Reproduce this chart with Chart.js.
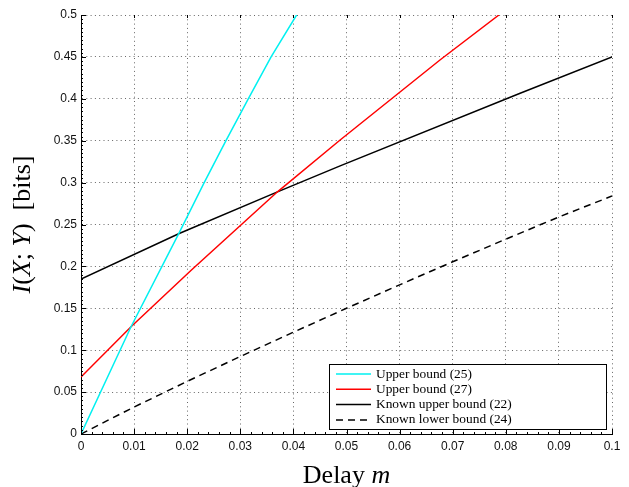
<!DOCTYPE html>
<html>
<head>
<meta charset="utf-8">
<script src="https://cdn.jsdelivr.net/npm/chart.js@4"></script>
<style>
body { margin: 0; background: #fff; }
canvas { display: block; }
</style>
</head>
<body>
<canvas id="myChart" width="629" height="487"></canvas>
<script>
// series (delay m -> I(X;Y) in bits)
const upper25X = [0, 0.00942, 0.0186, 0.0232, 0.0273, 0.0315, 0.0358, 0.0406];
const upper25Y = [0, 0.128, 0.2414, 0.3, 0.35, 0.4, 0.45, 0.5];
const upper27X = [0, 0.00942, 0.0208, 0.037, 0.0488, 0.0676, 0.0787];
const upper27Y = [0.068, 0.128, 0.1957, 0.289, 0.3508, 0.4463, 0.5];
const knownUpperX = [0, 0.0186, 0.037, 0.0488, 0.0827, 0.1];
const knownUpperY = [0.185, 0.2395, 0.289, 0.32, 0.4066, 0.45];
const knownLowerX = [0, 0.01, 0.02, 0.03, 0.04, 0.05, 0.06, 0.07, 0.08, 0.09, 0.1];
const knownLowerY = [0, 0.0322, 0.0628, 0.0925, 0.1215, 0.15, 0.178, 0.2055, 0.2325, 0.259, 0.284];

const seriesLabels = ['Upper bound (25)', 'Upper bound (27)', 'Known upper bound (22)', 'Known lower bound (24)'];
const xTicks = [0, 0.01, 0.02, 0.03, 0.04, 0.05, 0.06, 0.07, 0.08, 0.09, 0.1];
const yTicks = [0, 0.05, 0.1, 0.15, 0.2, 0.25, 0.3, 0.35, 0.4, 0.45, 0.5];

function pts(xs, ys) {
    return xs.map(function (x, i) { return { x: x, y: ys[i] }; });
}
function fmt(v) {
    return String(Number(v.toFixed(4)));
}

const data = {
    datasets: [{
        label: seriesLabels[0],
        data: pts(upper25X, upper25Y),
        borderColor: '#00f0f0',
        borderDash: []
    }, {
        label: seriesLabels[1],
        data: pts(upper27X, upper27Y),
        borderColor: '#ff0000',
        borderDash: []
    }, {
        label: seriesLabels[2],
        data: pts(knownUpperX, knownUpperY),
        borderColor: '#000000',
        borderDash: []
    }, {
        label: seriesLabels[3],
        data: pts(knownLowerX, knownLowerY),
        borderColor: '#000000',
        borderDash: [7, 5]
    }]
};

// inward ticks, axis titles and the boxed legend
const extras = {
    id: 'extras',
    afterDatasetsDraw(chart) {
        const ctx = chart.ctx;
        const a = chart.chartArea;
        const xs = chart.scales.x, ys = chart.scales.y;
        ctx.save();
        ctx.strokeStyle = '#000';
        ctx.lineWidth = 1;
        ctx.setLineDash([]);
        ctx.beginPath();
        xTicks.forEach(function (t) {
            const px = Math.round(xs.getPixelForValue(t)) + 0.5;
            ctx.moveTo(px, a.bottom); ctx.lineTo(px, a.bottom - 5);
            ctx.moveTo(px, a.top); ctx.lineTo(px, a.top + 3);
        });
        yTicks.forEach(function (t) {
            const py = Math.round(ys.getPixelForValue(t)) + 0.5;
            ctx.moveTo(a.left, py); ctx.lineTo(a.left + 5, py);
        });
        for (let v = 0; v <= 0.5001; v += 0.005) {
            const py = Math.round(ys.getPixelForValue(v)) + 0.5;
            ctx.moveTo(a.left, py); ctx.lineTo(a.left + 2, py);
        }
        for (let v = 0; v <= 0.1001; v += 0.002) {
            const px = Math.round(xs.getPixelForValue(v)) + 0.5;
            ctx.moveTo(px, a.bottom); ctx.lineTo(px, a.bottom - 2);
        }
        ctx.stroke();

        // legend
        const lw = 277, lh = 65;
        const lx = a.right - 6 - lw, ly = a.bottom - 5 - lh;
        ctx.fillStyle = '#fff';
        ctx.fillRect(lx, ly, lw, lh);
        ctx.strokeRect(Math.round(lx) + 0.5, Math.round(ly) + 0.5, lw, lh);
        ctx.font = '13.4px "Liberation Serif"';
        ctx.textBaseline = 'middle';
        chart.data.datasets.forEach(function (ds, i) {
            const cy = ly + 10 + i * 15.3;
            ctx.strokeStyle = ds.borderColor;
            ctx.lineWidth = 1.5;
            ctx.setLineDash(ds.borderDash);
            ctx.beginPath();
            ctx.moveTo(lx + 7, cy); ctx.lineTo(lx + 42, cy);
            ctx.stroke();
            ctx.fillStyle = '#000';
            ctx.fillText(ds.label, lx + 47, cy);
        });
        ctx.setLineDash([]);

        // axis titles with math italics
        function drawParts(parts, cx, cy) {
            let w = 0;
            parts.forEach(function (p) {
                ctx.font = (p[1] ? 'italic ' : '') + '26px "Liberation Serif"';
                w += ctx.measureText(p[0]).width;
            });
            let x = cx - w / 2;
            parts.forEach(function (p) {
                ctx.font = (p[1] ? 'italic ' : '') + '26px "Liberation Serif"';
                ctx.fillText(p[0], x, cy);
                x += ctx.measureText(p[0]).width;
            });
        }
        ctx.fillStyle = '#000';
        ctx.textBaseline = 'alphabetic';
        drawParts([['Delay ', false], ['m', true]], (a.left + a.right) / 2, 483);
        ctx.save();
        ctx.translate(30, (a.top + a.bottom) / 2);
        ctx.rotate(-Math.PI / 2);
        drawParts([['I', true], ['(', false], ['X', true], [';', false], [' Y', true], [')  [bits]', false]], 0, 0);
        ctx.restore();
        ctx.restore();
    }
};

new Chart(document.getElementById('myChart'), {
    type: 'line',
    data: data,
    options: {
        responsive: false,
        animation: false,
        layout: { padding: { top: 15, right: 17, left: 0, bottom: 0 } },
        elements: {
            point: { radius: 0 },
            line: { borderWidth: 1.5, tension: 0 }
        },
        plugins: { legend: { display: false }, tooltip: { enabled: false } },
        scales: {
            x: {
                type: 'linear',
                min: 0,
                max: 0.1,
                afterFit: function (s) { s.height = 53; },
                afterBuildTicks: function (s) { s.ticks = xTicks.map(function (v) { return { value: v }; }); },
                ticks: {
                    callback: function (v) { return fmt(v); },
                    font: { family: '"Liberation Sans"', size: 12 },
                    color: '#111',
                    padding: 5,
                    maxRotation: 0
                },
                grid: { color: '#666', drawTicks: false, lineWidth: 1 },
                border: { display: true, color: '#000', width: 1, dash: [1, 3.3] }
            },
            y: {
                type: 'linear',
                min: 0,
                max: 0.5,
                afterFit: function (s) { s.width = 81; },
                afterBuildTicks: function (s) { s.ticks = yTicks.map(function (v) { return { value: v }; }); },
                ticks: {
                    callback: function (v) { return fmt(v); },
                    font: { family: '"Liberation Sans"', size: 12 },
                    color: '#111',
                    padding: 4
                },
                grid: { color: '#666', drawTicks: false, lineWidth: 1 },
                border: { display: true, color: '#000', width: 1, dash: [1, 3.3] }
            }
        }
    },
    plugins: [extras]
});
</script>
</body>
</html>
